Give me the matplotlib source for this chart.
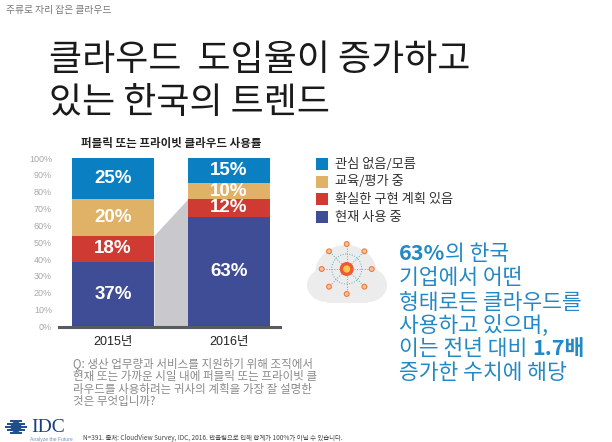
import numpy as np
import matplotlib
matplotlib.use('Agg')
import matplotlib.pyplot as plt
from matplotlib.patches import Circle, Rectangle, Ellipse

KR = ['Noto Sans CJK KR', 'DejaVu Sans']
LAT = ['Liberation Sans', 'Noto Sans CJK KR']
plt.rcParams['font.family'] = KR

years = ['2015년', '2016년']
series = ['현재 사용 중', '확실한 구현 계획 있음', '교육/평가 중', '관심 없음/모름']
colors = ['#3f4c96', '#cf3a32', '#dfb267', '#0a7fc2']
# heights as drawn in the picture (not quite the same as the printed labels)
heights_2015 = [38.5, 15.5, 21.8, 24]
heights_2016 = [65, 10.8, 9.2, 15]
labels_2015 = ['37%', '18%', '20%', '25%']
labels_2016 = ['63%', '12%', '10%', '15%']
yticks = [0, 10, 20, 30, 40, 50, 60, 70, 80, 90, 100]

title_lines = ['클라우드  도입율이 증가하고', '있는 한국의 트렌드']
question = ['Q: 생산 업무량과 서비스를 지원하기 위해 조직에서',
            '현재 또는 가까운 시일 내에 퍼블릭 또는 프라이빗 클',
            '라우드를 사용하려는 귀사의 계획을 가장 잘 설명한',
            '것은 무엇입니까?']
footnote = 'N=391. 출처: CloudView Survey, IDC, 2016. 반올림으로 인해 합계가 100%가 아닐 수 있습니다.'
callout = [[('63%', True), ('의 한국', False)],
           [('기업에서 어떤', False)],
           [('형태로든 클라우드를', False)],
           [('사용하고 있으며,', False)],
           [('이는 전년 대비 ', False), ('1.7배', True)],
           [('증가한 수치에 해당', False)]]
callout_y = [254, 278, 303, 326, 349, 373]
legend_y = [217.3, 199.3, 181.7, 164]

W, H = 612, 442
fig = plt.figure(figsize=(W / 100, H / 100), dpi=100, facecolor='white')

# pixel overlay for everything that isn't the bar chart
px = fig.add_axes([0, 0, 1, 1])
px.set_xlim(0, W)
px.set_ylim(H, 0)
px.axis('off')

# bar chart
ax = fig.add_axes([59 / W, 1 - 326.5 / H, 221 / W, 168.5 / H])
ax.patch.set_alpha(0)
x = np.array([0, 1])
bw = 0.707
left_2015 = np.cumsum([0] + heights_2015)
left_2016 = np.cumsum([0] + heights_2016)

# grey wedge between the bars
ax.fill_between([x[0] + bw / 2, x[1] - bw / 2], [0, 0],
                [left_2015[2], left_2016[2]], color='#c9c9cd', lw=0)

for i, c in enumerate(colors):
    ax.bar(x, [heights_2015[i], heights_2016[i]], bw,
           bottom=[left_2015[i], left_2016[i]], color=c, lw=0)
    ax.text(0, left_2015[i] + heights_2015[i] / 2, labels_2015[i], color='white', ha='center',
            va='center', fontsize=13.5, fontweight='bold', family=LAT)
    ax.text(1, left_2016[i] + heights_2016[i] / 2, labels_2016[i], color='white', ha='center',
            va='center', fontsize=13.5, fontweight='bold', family=LAT)

ax.set_xlim(-0.4655, 1.44)
ax.set_ylim(0, 100)
ax.set_xticks(x)
ax.set_xticklabels(years, fontsize=9, color='#222222', family=LAT)
ax.set_yticks(yticks)
ax.set_yticklabels([f'{t}%' for t in yticks], fontsize=6.5, color='#a8a8a8', family=LAT)
ax.tick_params(length=0, pad=5)
ax.tick_params(axis='x', pad=7)
for s in ['top', 'left', 'right']:
    ax.spines[s].set_visible(False)
ax.spines['bottom'].set_color('#555b60')
ax.spines['bottom'].set_linewidth(2.2)

# texts
px.text(6, 10, '주류로 자리 잡은 클라우드', fontsize=7, color='#777777', va='center')
px.text(49, 60, title_lines[0], fontsize=25.9, color='#1a1a1a', va='center', fontweight=300)
px.text(49, 103, title_lines[1], fontsize=25.9, color='#1a1a1a', va='center', fontweight=300)
px.text(171, 143, '퍼블릭 또는 프라이빗 클라우드 사용률', fontsize=8.3, fontweight='bold',
        color='#222222', ha='center', va='center')

# legend
for name, c, y in zip(series, colors, legend_y):
    px.add_patch(Rectangle((316, y - 6), 12, 12, color=c, lw=0))
    px.text(335, y, name, fontsize=9.5, color='#333333', va='center')

for line, y in zip(question, [364, 376.5, 389, 401]):
    px.text(73, y, line, fontsize=8.3, color='#8a8a8a', va='center', style='italic')

px.text(83, 438.5, footnote, fontsize=4.65, color='#444444', va='center')

# callout, bold and regular runs on one baseline
r = fig.canvas.get_renderer()
for runs, y in zip(callout, callout_y):
    cx = 399
    for s, bold in runs:
        t = px.text(cx, y + 6, s, fontsize=15.5, color='#2389c6', va='baseline',
                    fontweight='bold' if bold else 'normal')
        cx += t.get_window_extent(r).width

# cloud icon
cx, cy = 346.7, 269
for (ex, ey, ew, eh) in [(327, 285, 40, 34), (346, 274, 62, 58), (368, 285, 38, 34)]:
    px.add_patch(Ellipse((ex, ey), ew, eh, color='#ececec', lw=0))
px.add_patch(Rectangle((327, 283), 41, 20, color='#ececec', lw=0))
px.add_patch(Circle((cx, cy), 15, fill=False, ec='#4fb3bd', lw=0.7, ls=':'))
for a in np.arange(0, 360, 45):
    ex, ey = cx + 25 * np.cos(np.radians(a)), cy + 25 * np.sin(np.radians(a))
    px.plot([cx + 7 * np.cos(np.radians(a)), ex], [cy + 7 * np.sin(np.radians(a)), ey],
            color='#4fb3bd', lw=0.7, ls=':')
    px.add_patch(Circle((ex, ey), 2.4, fc='#f9c29a', ec='#ee7b3a', lw=0.8, zorder=3))
px.add_patch(Circle((cx, cy), 7, color='#ee5a35', lw=0, zorder=3))
px.add_patch(Circle((cx, cy), 3.6, color='#fbc84a', lw=0, zorder=4))

# IDC logo
for yy, hw in zip([421, 424, 427, 430, 433], [6, 9, 11, 9, 6]):
    px.plot([16 - hw, 16 + hw], [yy, yy], color='#1f4e8c', lw=1.4, solid_capstyle='butt')
px.add_patch(Circle((16, 427), 5.5, color='#1f4e8c', lw=0, zorder=3))
px.text(31, 428, 'IDC', fontsize=14, color='#1a3f7a', family=['Liberation Serif'], va='center')
px.text(30, 439.5, 'Analyze the Future', fontsize=3.6, color='#6f8fc0', family=LAT, va='center')

fig.savefig('out.png', dpi=100, facecolor='white')
